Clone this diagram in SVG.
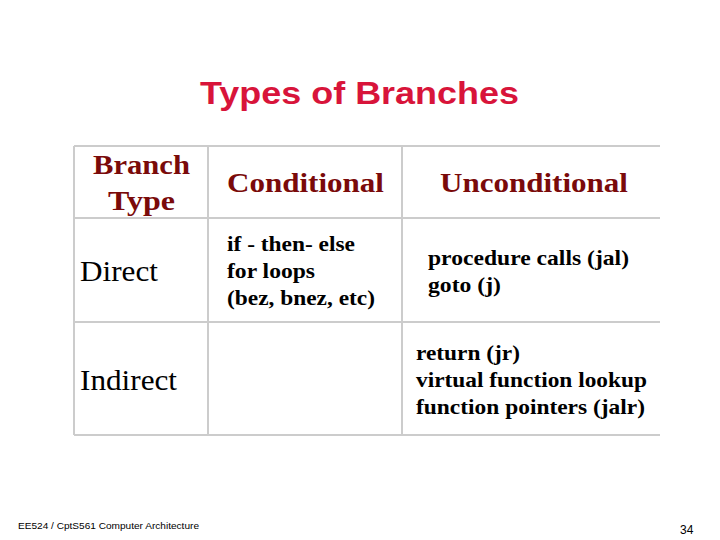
<svg xmlns="http://www.w3.org/2000/svg" width="720" height="540" viewBox="0 0 720 540">
<style>
.g{stroke:#cccccc;stroke-width:2;fill:none}
.h{font-family:'Liberation Serif',serif;font-weight:bold;font-size:28px;fill:#7a0a0a}
.b{font-family:'Liberation Serif',serif;font-weight:bold;font-size:22px;fill:#000}
.r{font-family:'Liberation Serif',serif;font-size:29px;fill:#000}
</style>
<rect width="720" height="540" fill="#fff"/>
<text x="200" y="104" textLength="319" lengthAdjust="spacingAndGlyphs" font-family="'Liberation Sans',sans-serif" font-weight="bold" font-size="32" fill="#d8143a">Types of Branches</text>
<g id="table">
<path class="g" d="M74 146H660M74 218H660M74 322H660M74 435H660M74 146V435M208 146V435M402 146V435"/>
</g>
<g id="headers">
<text class="h" x="93" y="174" textLength="97" lengthAdjust="spacingAndGlyphs">Branch</text>
<text class="h" x="108" y="210" textLength="67" lengthAdjust="spacingAndGlyphs">Type</text>
<text class="h" x="227" y="192" textLength="157" lengthAdjust="spacingAndGlyphs">Conditional</text>
<text class="h" x="440" y="192" textLength="188" lengthAdjust="spacingAndGlyphs">Unconditional</text>
</g>
<g id="direct">
<text class="r" x="80" y="281" textLength="78" lengthAdjust="spacingAndGlyphs">Direct</text>
<text class="b" x="227" y="251" textLength="128" lengthAdjust="spacingAndGlyphs">if - then- else</text>
<text class="b" x="227" y="278" textLength="88" lengthAdjust="spacingAndGlyphs">for loops</text>
<text class="b" x="227" y="305" textLength="148" lengthAdjust="spacingAndGlyphs">(bez, bnez, etc)</text>
<text class="b" x="428" y="265" textLength="201" lengthAdjust="spacingAndGlyphs">procedure calls (jal)</text>
<text class="b" x="428" y="292" textLength="73" lengthAdjust="spacingAndGlyphs">goto (j)</text>
</g>
<g id="indirect">
<text class="r" x="80" y="390" textLength="97" lengthAdjust="spacingAndGlyphs">Indirect</text>
<text class="b" x="416" y="360" textLength="104" lengthAdjust="spacingAndGlyphs">return (jr)</text>
<text class="b" x="416" y="387" textLength="231" lengthAdjust="spacingAndGlyphs">virtual function lookup</text>
<text class="b" x="416" y="414" textLength="229" lengthAdjust="spacingAndGlyphs">function pointers (jalr)</text>
</g>
<text x="18" y="529" textLength="181" lengthAdjust="spacingAndGlyphs" font-family="'Liberation Sans',sans-serif" font-size="9">EE524 / CptS561 Computer Architecture</text>
<text x="680" y="534" font-family="'Liberation Sans',sans-serif" font-size="12">34</text>
</svg>
